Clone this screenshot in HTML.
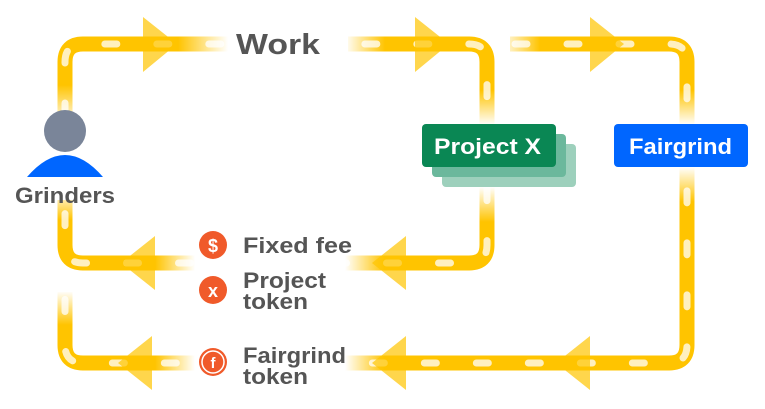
<!DOCTYPE html>
<html><head><meta charset="utf-8"><style>
html,body{margin:0;padding:0;background:#fff;}
svg{display:block;font-family:"Liberation Sans",sans-serif;font-weight:bold;}
</style></head><body>
<svg width="765" height="409" viewBox="0 0 765 409" xmlns="http://www.w3.org/2000/svg">
<defs>
<linearGradient id="fr" x1="0" x2="1"><stop offset="0" stop-color="#fff" stop-opacity="0"/><stop offset="1" stop-color="#fff" stop-opacity="1"/></linearGradient>
<linearGradient id="fl" x1="1" x2="0"><stop offset="0" stop-color="#fff" stop-opacity="0"/><stop offset="1" stop-color="#fff" stop-opacity="1"/></linearGradient>
<linearGradient id="fd" x1="0" y1="0" x2="0" y2="1"><stop offset="0" stop-color="#fff" stop-opacity="0"/><stop offset="1" stop-color="#fff" stop-opacity="1"/></linearGradient>
<linearGradient id="fu" x1="0" y1="1" x2="0" y2="0"><stop offset="0" stop-color="#fff" stop-opacity="0"/><stop offset="1" stop-color="#fff" stop-opacity="1"/></linearGradient>
</defs>
<g fill="none" stroke="#FFC400" stroke-width="15">
<path d="M65 120 V62 Q65 44 83 44 H469 Q487 44 487 62 V245 Q487 263 469 263 H83 Q65 263 65 245 V200"/>
<path d="M510 44 H669 Q687 44 687 62 V345 Q687 363 669 363 H83 Q65 363 65 345 V290"/>
</g>
<g fill="none" stroke="#fff" stroke-opacity="0.75" stroke-width="7" stroke-linecap="round" stroke-dasharray="12 40">
<path d="M65 115 V62 Q65 44 83 44 H469 Q487 44 487 62 V245 Q487 263 469 263 H83 Q65 263 65 245 V200"/>
<path d="M515 44 H669 Q687 44 687 62 V345 Q687 363 669 363 H83 Q65 363 65 345 V290"/>
</g>
<!-- fades -->
<rect x="178" y="30" width="50" height="30" fill="url(#fr)"/><rect x="228" y="30" width="120" height="30" fill="#fff"/>
<rect x="345" y="30" width="40" height="30" fill="url(#fl)"/>
<rect x="500" y="30" width="40" height="30" fill="url(#fl)"/>
<rect x="55" y="85" width="22" height="40" fill="url(#fd)"/>
<rect x="55" y="190" width="22" height="30" fill="url(#fu)"/>
<rect x="55" y="286" width="22" height="6" fill="#fff"/>
<rect x="55" y="291" width="22" height="34" fill="url(#fu)"/>
<rect x="475" y="90" width="24" height="35" fill="url(#fd)"/>
<rect x="475" y="187" width="24" height="35" fill="url(#fu)"/>
<rect x="675" y="90" width="24" height="35" fill="url(#fd)"/>
<rect x="675" y="167" width="24" height="35" fill="url(#fu)"/>
<rect x="155" y="250" width="40" height="28" fill="url(#fr)"/><rect x="195" y="250" width="150" height="28" fill="#fff"/>
<rect x="345" y="250" width="40" height="28" fill="url(#fl)"/>
<rect x="155" y="350" width="40" height="28" fill="url(#fr)"/><rect x="195" y="350" width="150" height="28" fill="#fff"/>
<rect x="345" y="350" width="40" height="28" fill="url(#fl)"/>
<!-- arrows -->
<g fill="#FFC400" fill-opacity="0.7">
<polygon points="143,17 177,44 143,72"/>
<polygon points="415,17 449,44 415,72"/>
<polygon points="590,17 624,44 590,72"/>
<polygon points="406,236 372,263 406,290"/>
<polygon points="155,236 121,263 155,290"/>
<polygon points="406,336 372,363 406,390"/>
<polygon points="590,336 556,363 590,390"/>
<polygon points="152,336 118,363 152,390"/>
</g>
<text x="236" y="54" font-size="29" fill="#555" textLength="84" lengthAdjust="spacingAndGlyphs">Work</text>
<!-- person -->
<circle cx="65" cy="131" r="21" fill="#7A8599"/>
<path d="M27 177 Q65 133 103 177 Z" fill="#0066FF"/>
<text x="15" y="203" font-size="22" fill="#555" textLength="100" lengthAdjust="spacingAndGlyphs">Grinders</text>
<!-- boxes -->
<rect x="442" y="144" width="134" height="43" rx="4" fill="#9DD0BC"/>
<rect x="432" y="134" width="134" height="43" rx="4" fill="#6BB89C"/>
<rect x="422" y="124" width="134" height="43" rx="4" fill="#0A8754"/>
<text x="434" y="154" font-size="22" fill="#fff" textLength="107" lengthAdjust="spacingAndGlyphs">Project X</text>
<rect x="614" y="124" width="134" height="43" rx="4" fill="#0066FF"/>
<text x="629" y="154" font-size="22" fill="#fff" textLength="103" lengthAdjust="spacingAndGlyphs">Fairgrind</text>
<!-- icons -->
<circle cx="213" cy="245" r="14" fill="#F05A2A"/><text x="213" y="252" font-size="18" fill="#fff" text-anchor="middle">$</text>
<circle cx="213" cy="290" r="14" fill="#F05A2A"/><text x="213" y="297" font-size="18" fill="#fff" text-anchor="middle">x</text>
<circle cx="213" cy="362" r="14" fill="#F05A2A"/><circle cx="213" cy="362" r="11" fill="none" stroke="#fff" stroke-width="1.5"/>
<text x="213" y="368" font-size="15" fill="#fff" text-anchor="middle">f</text>
<g font-size="22" fill="#555">
<text x="243" y="253" textLength="109" lengthAdjust="spacingAndGlyphs">Fixed fee</text>
<text x="243" y="288" textLength="83" lengthAdjust="spacingAndGlyphs">Project</text>
<text x="243" y="309" textLength="65" lengthAdjust="spacingAndGlyphs">token</text>
<text x="243" y="363" textLength="103" lengthAdjust="spacingAndGlyphs">Fairgrind</text>
<text x="243" y="384" textLength="65" lengthAdjust="spacingAndGlyphs">token</text>
</g>
</svg>
</body></html>
